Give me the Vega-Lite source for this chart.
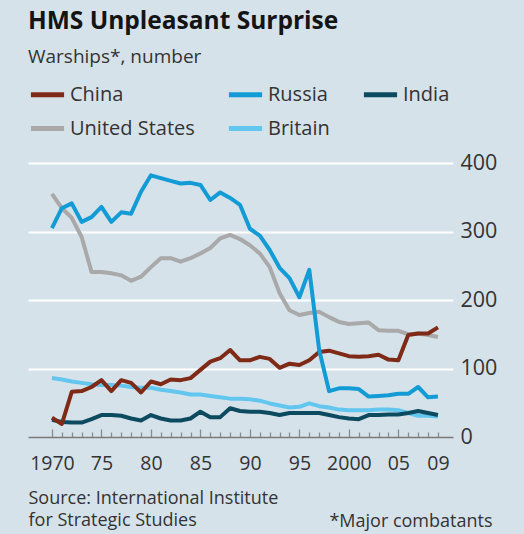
{
  "$schema": "https://vega.github.io/schema/vega-lite/v6.json",
  "autosize": {"type": "none"},
  "padding": {"left": 28, "top": 163, "right": 71, "bottom": 97},
  "width": 425,
  "height": 274,
  "background": "#d6e2ea",
  "title": {
    "text": "HMS Unpleasant Surprise",
    "subtitle": "Warships*, number",
    "anchor": "start",
    "frame": "group",
    "font": "Open Sans",
    "fontSize": 24.5,
    "fontWeight": "bold",
    "color": "#141414",
    "subtitleFont": "Open Sans",
    "subtitleFontSize": 19,
    "subtitleColor": "#333333",
    "subtitlePadding": 14,
    "offset": 7
  },
  "data": {
    "values": [
      {"country": "United States", "year": 1970, "ships": 355},
      {"country": "United States", "year": 1971, "ships": 334},
      {"country": "United States", "year": 1972, "ships": 320},
      {"country": "United States", "year": 1973, "ships": 292},
      {"country": "United States", "year": 1974, "ships": 241},
      {"country": "United States", "year": 1975, "ships": 241},
      {"country": "United States", "year": 1976, "ships": 239},
      {"country": "United States", "year": 1977, "ships": 236},
      {"country": "United States", "year": 1978, "ships": 228},
      {"country": "United States", "year": 1979, "ships": 234},
      {"country": "United States", "year": 1980, "ships": 248},
      {"country": "United States", "year": 1981, "ships": 261},
      {"country": "United States", "year": 1982, "ships": 261},
      {"country": "United States", "year": 1983, "ships": 256},
      {"country": "United States", "year": 1984, "ships": 261},
      {"country": "United States", "year": 1985, "ships": 268},
      {"country": "United States", "year": 1986, "ships": 276},
      {"country": "United States", "year": 1987, "ships": 290},
      {"country": "United States", "year": 1988, "ships": 295},
      {"country": "United States", "year": 1989, "ships": 289},
      {"country": "United States", "year": 1990, "ships": 280},
      {"country": "United States", "year": 1991, "ships": 268},
      {"country": "United States", "year": 1992, "ships": 248},
      {"country": "United States", "year": 1993, "ships": 210},
      {"country": "United States", "year": 1994, "ships": 185},
      {"country": "United States", "year": 1995, "ships": 178},
      {"country": "United States", "year": 1996, "ships": 181},
      {"country": "United States", "year": 1997, "ships": 183},
      {"country": "United States", "year": 1998, "ships": 175},
      {"country": "United States", "year": 1999, "ships": 168},
      {"country": "United States", "year": 2000, "ships": 165},
      {"country": "United States", "year": 2001, "ships": 166},
      {"country": "United States", "year": 2002, "ships": 167},
      {"country": "United States", "year": 2003, "ships": 156},
      {"country": "United States", "year": 2004, "ships": 155},
      {"country": "United States", "year": 2005, "ships": 155},
      {"country": "United States", "year": 2006, "ships": 150},
      {"country": "United States", "year": 2007, "ships": 151},
      {"country": "United States", "year": 2008, "ships": 149},
      {"country": "United States", "year": 2009, "ships": 146},
      {"country": "Britain", "year": 1970, "ships": 86},
      {"country": "Britain", "year": 1971, "ships": 84},
      {"country": "Britain", "year": 1972, "ships": 81},
      {"country": "Britain", "year": 1973, "ships": 79},
      {"country": "Britain", "year": 1974, "ships": 77},
      {"country": "Britain", "year": 1975, "ships": 76},
      {"country": "Britain", "year": 1976, "ships": 76},
      {"country": "Britain", "year": 1977, "ships": 75},
      {"country": "Britain", "year": 1978, "ships": 73},
      {"country": "Britain", "year": 1979, "ships": 72},
      {"country": "Britain", "year": 1980, "ships": 72},
      {"country": "Britain", "year": 1981, "ships": 69},
      {"country": "Britain", "year": 1982, "ships": 67},
      {"country": "Britain", "year": 1983, "ships": 65},
      {"country": "Britain", "year": 1984, "ships": 62},
      {"country": "Britain", "year": 1985, "ships": 62},
      {"country": "Britain", "year": 1986, "ships": 60},
      {"country": "Britain", "year": 1987, "ships": 58},
      {"country": "Britain", "year": 1988, "ships": 56},
      {"country": "Britain", "year": 1989, "ships": 56},
      {"country": "Britain", "year": 1990, "ships": 55},
      {"country": "Britain", "year": 1991, "ships": 53},
      {"country": "Britain", "year": 1992, "ships": 49},
      {"country": "Britain", "year": 1993, "ships": 46},
      {"country": "Britain", "year": 1994, "ships": 43},
      {"country": "Britain", "year": 1995, "ships": 44},
      {"country": "Britain", "year": 1996, "ships": 49},
      {"country": "Britain", "year": 1997, "ships": 45},
      {"country": "Britain", "year": 1998, "ships": 43},
      {"country": "Britain", "year": 1999, "ships": 40},
      {"country": "Britain", "year": 2000, "ships": 39},
      {"country": "Britain", "year": 2001, "ships": 39},
      {"country": "Britain", "year": 2002, "ships": 39},
      {"country": "Britain", "year": 2003, "ships": 40},
      {"country": "Britain", "year": 2004, "ships": 40},
      {"country": "Britain", "year": 2005, "ships": 39},
      {"country": "Britain", "year": 2006, "ships": 35},
      {"country": "Britain", "year": 2007, "ships": 31},
      {"country": "Britain", "year": 2008, "ships": 31},
      {"country": "Britain", "year": 2009, "ships": 30},
      {"country": "India", "year": 1970, "ships": 25},
      {"country": "India", "year": 1971, "ships": 22},
      {"country": "India", "year": 1972, "ships": 21},
      {"country": "India", "year": 1973, "ships": 21},
      {"country": "India", "year": 1974, "ships": 26},
      {"country": "India", "year": 1975, "ships": 32},
      {"country": "India", "year": 1976, "ships": 32},
      {"country": "India", "year": 1977, "ships": 31},
      {"country": "India", "year": 1978, "ships": 27},
      {"country": "India", "year": 1979, "ships": 24},
      {"country": "India", "year": 1980, "ships": 32},
      {"country": "India", "year": 1981, "ships": 27},
      {"country": "India", "year": 1982, "ships": 24},
      {"country": "India", "year": 1983, "ships": 24},
      {"country": "India", "year": 1984, "ships": 27},
      {"country": "India", "year": 1985, "ships": 37},
      {"country": "India", "year": 1986, "ships": 29},
      {"country": "India", "year": 1987, "ships": 29},
      {"country": "India", "year": 1988, "ships": 42},
      {"country": "India", "year": 1989, "ships": 38},
      {"country": "India", "year": 1990, "ships": 37},
      {"country": "India", "year": 1991, "ships": 37},
      {"country": "India", "year": 1992, "ships": 35},
      {"country": "India", "year": 1993, "ships": 32},
      {"country": "India", "year": 1994, "ships": 35},
      {"country": "India", "year": 1995, "ships": 35},
      {"country": "India", "year": 1996, "ships": 35},
      {"country": "India", "year": 1997, "ships": 35},
      {"country": "India", "year": 1998, "ships": 32},
      {"country": "India", "year": 1999, "ships": 29},
      {"country": "India", "year": 2000, "ships": 27},
      {"country": "India", "year": 2001, "ships": 26},
      {"country": "India", "year": 2002, "ships": 32},
      {"country": "India", "year": 2003, "ships": 32},
      {"country": "India", "year": 2004, "ships": 33},
      {"country": "India", "year": 2005, "ships": 33},
      {"country": "India", "year": 2006, "ships": 35},
      {"country": "India", "year": 2007, "ships": 38},
      {"country": "India", "year": 2008, "ships": 35},
      {"country": "India", "year": 2009, "ships": 32},
      {"country": "China", "year": 1970, "ships": 28},
      {"country": "China", "year": 1971, "ships": 19},
      {"country": "China", "year": 1972, "ships": 66},
      {"country": "China", "year": 1973, "ships": 67},
      {"country": "China", "year": 1974, "ships": 73},
      {"country": "China", "year": 1975, "ships": 83},
      {"country": "China", "year": 1976, "ships": 67},
      {"country": "China", "year": 1977, "ships": 83},
      {"country": "China", "year": 1978, "ships": 79},
      {"country": "China", "year": 1979, "ships": 65},
      {"country": "China", "year": 1980, "ships": 81},
      {"country": "China", "year": 1981, "ships": 77},
      {"country": "China", "year": 1982, "ships": 84},
      {"country": "China", "year": 1983, "ships": 83},
      {"country": "China", "year": 1984, "ships": 86},
      {"country": "China", "year": 1985, "ships": 98},
      {"country": "China", "year": 1986, "ships": 110},
      {"country": "China", "year": 1987, "ships": 115},
      {"country": "China", "year": 1988, "ships": 127},
      {"country": "China", "year": 1989, "ships": 112},
      {"country": "China", "year": 1990, "ships": 112},
      {"country": "China", "year": 1991, "ships": 117},
      {"country": "China", "year": 1992, "ships": 114},
      {"country": "China", "year": 1993, "ships": 101},
      {"country": "China", "year": 1994, "ships": 107},
      {"country": "China", "year": 1995, "ships": 105},
      {"country": "China", "year": 1996, "ships": 112},
      {"country": "China", "year": 1997, "ships": 124},
      {"country": "China", "year": 1998, "ships": 126},
      {"country": "China", "year": 1999, "ships": 122},
      {"country": "China", "year": 2000, "ships": 118},
      {"country": "China", "year": 2001, "ships": 117},
      {"country": "China", "year": 2002, "ships": 118},
      {"country": "China", "year": 2003, "ships": 120},
      {"country": "China", "year": 2004, "ships": 113},
      {"country": "China", "year": 2005, "ships": 112},
      {"country": "China", "year": 2006, "ships": 149},
      {"country": "China", "year": 2007, "ships": 151},
      {"country": "China", "year": 2008, "ships": 151},
      {"country": "China", "year": 2009, "ships": 160},
      {"country": "Russia", "year": 1970, "ships": 305},
      {"country": "Russia", "year": 1971, "ships": 334},
      {"country": "Russia", "year": 1972, "ships": 341},
      {"country": "Russia", "year": 1973, "ships": 314},
      {"country": "Russia", "year": 1974, "ships": 321},
      {"country": "Russia", "year": 1975, "ships": 336},
      {"country": "Russia", "year": 1976, "ships": 314},
      {"country": "Russia", "year": 1977, "ships": 328},
      {"country": "Russia", "year": 1978, "ships": 326},
      {"country": "Russia", "year": 1979, "ships": 358},
      {"country": "Russia", "year": 1980, "ships": 382},
      {"country": "Russia", "year": 1981, "ships": 378},
      {"country": "Russia", "year": 1982, "ships": 374},
      {"country": "Russia", "year": 1983, "ships": 370},
      {"country": "Russia", "year": 1984, "ships": 371},
      {"country": "Russia", "year": 1985, "ships": 368},
      {"country": "Russia", "year": 1986, "ships": 346},
      {"country": "Russia", "year": 1987, "ships": 357},
      {"country": "Russia", "year": 1988, "ships": 349},
      {"country": "Russia", "year": 1989, "ships": 339},
      {"country": "Russia", "year": 1990, "ships": 304},
      {"country": "Russia", "year": 1991, "ships": 294},
      {"country": "Russia", "year": 1992, "ships": 273},
      {"country": "Russia", "year": 1993, "ships": 247},
      {"country": "Russia", "year": 1994, "ships": 232},
      {"country": "Russia", "year": 1995, "ships": 204},
      {"country": "Russia", "year": 1996, "ships": 244},
      {"country": "Russia", "year": 1997, "ships": 127},
      {"country": "Russia", "year": 1998, "ships": 67},
      {"country": "Russia", "year": 1999, "ships": 71},
      {"country": "Russia", "year": 2000, "ships": 71},
      {"country": "Russia", "year": 2001, "ships": 70},
      {"country": "Russia", "year": 2002, "ships": 59},
      {"country": "Russia", "year": 2003, "ships": 60},
      {"country": "Russia", "year": 2004, "ships": 61},
      {"country": "Russia", "year": 2005, "ships": 63},
      {"country": "Russia", "year": 2006, "ships": 63},
      {"country": "Russia", "year": 2007, "ships": 73},
      {"country": "Russia", "year": 2008, "ships": 58},
      {"country": "Russia", "year": 2009, "ships": 59}
    ]
  },
  "mark": {"type": "line", "strokeWidth": 4, "strokeJoin": "round", "strokeCap": "butt"},
  "encoding": {
    "x": {
      "field": "year",
      "type": "quantitative",
      "scale": {"domain": [1967.58, 2010.52], "nice": false, "zero": false},
      "axis": {
        "orient": "bottom",
        "values": [1970,1971,1972,1973,1974,1975,1976,1977,1978,1979,1980,1981,1982,1983,1984,1985,1986,1987,1988,1989,1990,1991,1992,1993,1994,1995,1996,1997,1998,1999,2000,2001,2002,2003,2004,2005,2006,2007,2008,2009],
        "labelExpr": "datum.value == 1970 ? '1970' : datum.value == 2000 ? '2000' : datum.value == 2009 ? '09' : datum.value % 5 == 0 ? slice(toString(datum.value), 2) : ''",
        "labelFont": "Open Sans",
        "labelFontSize": 19.5,
        "labelColor": "#333333",
        "labelPadding": {"condition": {"test": "datum.value % 5 == 0", "value": 25}, "value": 22},
        "labelOverlap": false,
        "labelFlush": false,
        "grid": false,
        "domain": true,
        "domainColor": "#7a7a7a",
        "domainWidth": 1.5,
        "ticks": true,
        "tickColor": "#8a8a8a",
        "tickWidth": 1.3,
        "tickSize": {"condition": {"test": "datum.value % 5 == 0", "value": -8}, "value": -5},
        "title": ["Source: International Institute", "for Strategic Studies"],
        "titleFont": "Open Sans",
        "titleFontSize": 18,
        "titleFontWeight": "normal",
        "titleColor": "#333333",
        "titleAnchor": "start",
        "titleAlign": "left",
        "titleBaseline": "alphabetic",
        "titleX": 0,
        "titleY": 66,
        "titleLineHeight": 22
      }
    },
    "y": {
      "field": "ships",
      "type": "quantitative",
      "scale": {"domain": [0, 400], "nice": false},
      "axis": {
        "orient": "right",
        "values": [0, 100, 200, 300, 400],
        "labelFont": "Open Sans",
        "labelFontSize": 21.5,
        "labelColor": "#333333",
        "labelPadding": 7,
        "labelAlign": "left",
        "labelBaseline": "middle",
        "domain": false,
        "ticks": false,
        "grid": true,
        "gridColor": {"condition": {"test": "datum.value == 0", "value": "transparent"}, "value": "#ffffff"},
        "gridWidth": 2,
        "title": "*Major combatants",
        "titleFont": "Open Sans",
        "titleFontSize": 18,
        "titleFontWeight": "normal",
        "titleColor": "#333333",
        "titleAngle": 0,
        "titleAlign": "right",
        "titleBaseline": "alphabetic",
        "titleX": 39,
        "titleY": 363
      }
    },
    "color": {
      "field": "country",
      "type": "nominal",
      "scale": {
        "domain": ["China", "Russia", "India", "United States", "Britain"],
        "range": ["#7e2a17", "#139bd6", "#0c4a60", "#a9a9a9", "#63c6ef"]
      },
      "legend": {
        "orient": "top",
        "direction": "horizontal",
        "columns": 3,
        "title": null,
        "symbolType": "stroke",
        "symbolStrokeWidth": 5,
        "symbolSize": 1100,
        "labelFont": "Open Sans",
        "labelFontSize": 20,
        "labelColor": "#333333",
        "labelOffset": 3,
        "columnPadding": 23,
        "rowPadding": 4,
        "padding": 0,
        "offset": 24
      }
    }
  },
  "config": {
    "view": {"stroke": null}
  }
}
